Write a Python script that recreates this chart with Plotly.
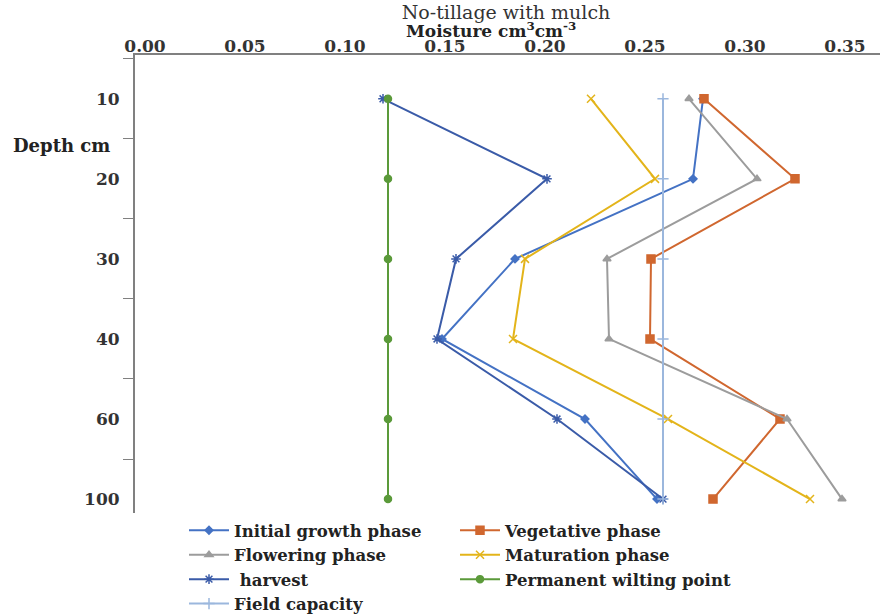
import plotly.graph_objects as go

depths = ["10", "20", "30", "40", "60", "100"]
initial_growth = [0.279, 0.274, 0.185, 0.1485, 0.220, 0.256]
vegetative = [0.2795, 0.325, 0.253, 0.2525, 0.3175, 0.284]
flowering = [0.272, 0.306, 0.231, 0.232, 0.321, 0.3485]
maturation = [0.223, 0.255, 0.190, 0.184, 0.2615, 0.3325]
harvest = [0.119, 0.201, 0.1555, 0.146, 0.206, 0.259]
wilting_point = [0.1215, 0.1215, 0.1215, 0.1215, 0.1215, 0.1215]
field_capacity = [0.259, 0.259, 0.259, 0.259, 0.259, 0.259]
x_ticks = [0.00, 0.05, 0.10, 0.15, 0.20, 0.25, 0.30, 0.35]

# name, values, colour, marker symbol, marker size, legend column
series = [
    ("Initial growth phase", initial_growth, "#4472C4", "diamond", 6, "legend"),
    ("Vegetative phase", vegetative, "#D0672F", "square", 8, "legend2"),
    ("Flowering phase", flowering, "#9C9C9C", "triangle-up", 7, "legend"),
    ("Maturation phase", maturation, "#E3B41A", "x-thin-open", 8, "legend2"),
    (" harvest", harvest, "#3A5BA8", "asterisk-open", 8, "legend"),
    ("Permanent wilting point", wilting_point, "#5B9A3A", "circle", 7, "legend2"),
    ("Field capacity", field_capacity, "#9BB7DD", "cross-thin-open", 8, "legend"),
]

fig = go.Figure()
for name, vals, color, symbol, size, leg in series:
    fig.add_trace(go.Scatter(
        x=vals, y=depths, name=name, mode="lines+markers", legend=leg,
        line=dict(color=color, width=2),
        marker=dict(symbol=symbol, size=size, color=color,
                    line=dict(color=color, width=1.5)),
    ))

serif = "DejaVu Serif, Liberation Serif, serif"
W, H = 881, 615
L, R, T, B = 135, 1, 55, 102
PW, PH = W - L - R, H - T - B

def px_x(x):
    return (x - L) / PW

def px_y(y):
    return (H - B - y) / PH

legend_font = dict(family=serif, size=16.5, color="#222222", weight="bold")

fig.update_layout(
    width=W, height=H,
    margin=dict(l=L, r=R, t=T, b=B, autoexpand=False),
    paper_bgcolor="white", plot_bgcolor="white",
    font=dict(family=serif, size=15, color="#333333"),
    title=dict(text="No-tillage with mulch", x=506 / W, xanchor="center",
               y=1 - 12 / H, yanchor="middle",
               font=dict(family=serif, size=19, color="#333333")),
    showlegend=True,
    legend=dict(orientation="v", x=px_x(184), xanchor="left", y=px_y(513), yanchor="top",
                font=legend_font, tracegroupgap=0, itemwidth=40, bgcolor="rgba(0,0,0,0)"),
    legend2=dict(orientation="v", x=px_x(455), xanchor="left", y=px_y(513), yanchor="top",
                 font=legend_font, tracegroupgap=0, itemwidth=40, bgcolor="rgba(0,0,0,0)"),
    annotations=[
        dict(text="Depth cm", x=px_x(61), y=px_y(145), xref="paper", yref="paper",
             xanchor="center", yanchor="middle", showarrow=False,
             font=dict(family=serif, size=18, color="#222222", weight="bold")),
        dict(text="<b>Moisture cm<sup>3</sup>cm<sup>-3</sup></b>", x=px_x(491), y=px_y(30),
             xref="paper", yref="paper", showarrow=False, xanchor="center", yanchor="middle",
             font=dict(family=serif, size=17, color="#222222")),
    ],
)

fig.update_xaxes(
    side="top", range=[-0.005, 0.3675], tickvals=x_ticks, tickformat=".2f",
    showgrid=False, zeroline=False, showline=True, linecolor="#808080", linewidth=2,
    ticks="", automargin=False, ticklabelstandoff=-6,
    tickfont=dict(family=serif, size=17, color="#333333", weight="bold"),
)
fig.update_yaxes(
    type="category", categoryorder="array", categoryarray=depths,
    range=[5.174, -0.547], showgrid=False, zeroline=False,
    showline=True, linecolor="#808080", linewidth=2, automargin=False,
    ticks="outside", tickson="boundaries", ticklen=10, tickcolor="#808080", tickwidth=1,
    ticklabelstandoff=10,
    tickfont=dict(family=serif, size=17, color="#333333", weight="bold"),
)

fig.write_html("out.html", config={"displayModeBar": False},
               post_script="document.body.style.margin='0px';")
